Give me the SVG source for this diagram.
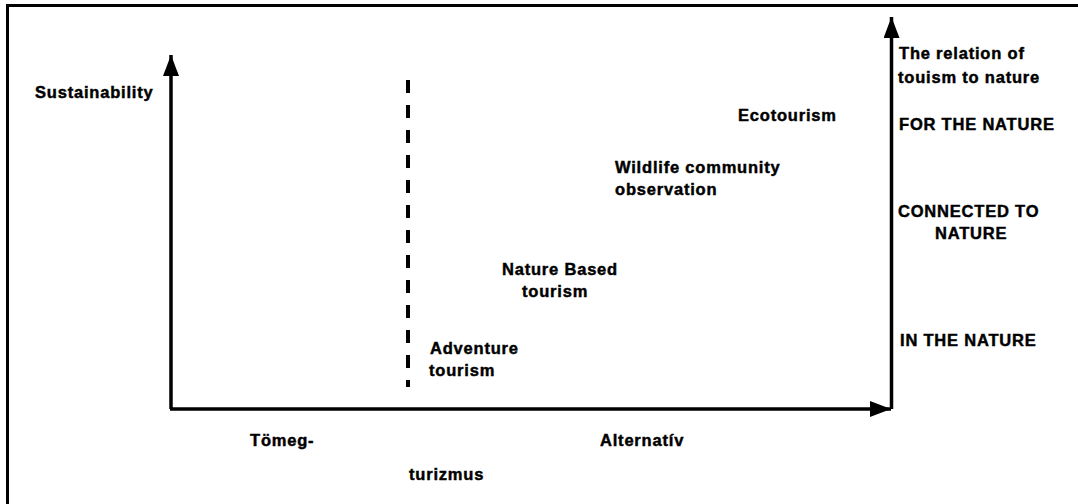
<svg xmlns="http://www.w3.org/2000/svg" width="1078" height="504" viewBox="0 0 1078 504">
  <style>
    .lbl { font-family: "Liberation Sans", Arial, sans-serif; font-weight: bold; font-size: 16.5px; letter-spacing: 0.8px; fill: #000; stroke: #000; stroke-width: 0.45px; }
    .axis { stroke: #000; stroke-width: 3.5; fill: none; }
    .dash { stroke: #000; stroke-width: 4; stroke-dasharray: 13 12; fill: none; }
    .frame { stroke: #000; stroke-width: 3; fill: none; }
  </style>
  <defs>
    <marker id="arrow" viewBox="0 0 21 16" refX="21" refY="8" markerWidth="21" markerHeight="16" markerUnits="userSpaceOnUse" orient="auto">
      <path d="M0,0 L21,8 L0,16 Z" fill="#000"/>
    </marker>
  </defs>

  <rect width="1078" height="504" fill="#fff"/>
  <!-- outer frame (top and left edges visible) -->
  <path class="frame" d="M7.5,510 L7.5,5.5 L1080,5.5"/>

  <!-- axes and divider -->
  <g id="connectors">
    <path class="axis" d="M171,409 L171,55" marker-end="url(#arrow)"/>
    <path class="axis" d="M170,409 L891,409" marker-end="url(#arrow)"/>
    <path class="axis" d="M891.5,409 L891.5,17" marker-end="url(#arrow)"/>
    <path class="dash" d="M408,80 L408,387"/>
  </g>

  <g id="sustainability"><text class="lbl" x="35" y="98">Sustainability</text></g>

  <g id="relation">
    <text class="lbl" x="899" y="59">The relation of</text>
    <text class="lbl" x="898" y="83">touism to nature</text>
  </g>
  <g id="for-nature"><text class="lbl" x="899" y="130">FOR THE NATURE</text></g>
  <g id="connected-nature">
    <text class="lbl" x="898" y="217">CONNECTED TO</text>
    <text class="lbl" x="935" y="239">NATURE</text>
  </g>
  <g id="in-nature"><text class="lbl" x="900" y="346">IN THE NATURE</text></g>

  <g id="ecotourism"><text class="lbl" x="738" y="121">Ecotourism</text></g>
  <g id="wildlife">
    <text class="lbl" x="615" y="173">Wildlife community</text>
    <text class="lbl" x="615" y="195">observation</text>
  </g>
  <g id="nature-based">
    <text class="lbl" x="502" y="275">Nature Based</text>
    <text class="lbl" x="522" y="297">tourism</text>
  </g>
  <g id="adventure">
    <text class="lbl" x="430" y="354">Adventure</text>
    <text class="lbl" x="429" y="376">tourism</text>
  </g>

  <g id="tomeg"><text class="lbl" x="250" y="446">Tömeg-</text></g>
  <g id="turizmus"><text class="lbl" x="409" y="480">turizmus</text></g>
  <g id="alternativ"><text class="lbl" x="600" y="446">Alternatív</text></g>
</svg>
